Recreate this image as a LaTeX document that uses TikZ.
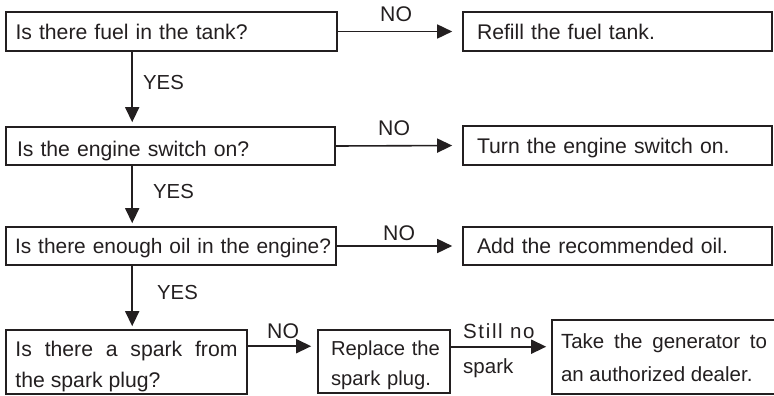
\documentclass[tikz,border=0pt]{standalone}
\usepackage{fontspec}
\setmainfont{Liberation Sans}
\usetikzlibrary{arrows.meta,calc}
\definecolor{ink}{RGB}{35,31,32}
\begin{document}
\begin{tikzpicture}[x=1pt,y=-1pt,
  font=\fontsize{21.2}{26}\selectfont, text=ink,
  box/.style={draw=ink, line width=1.6pt, rectangle, inner xsep=0pt, inner ysep=0pt,
    align=left, text height=15.2pt, text depth=0pt},
  mbox/.style={draw=ink, line width=1.6pt, rectangle, inner ysep=0pt},
  arr/.style={draw=ink, line width=1.6pt, -{Triangle[length=15pt,width=14pt]}},
  lbl/.style={anchor=base west, inner sep=0pt}]
\useasboundingbox (0,0) rectangle (774,396);

% question boxes and answers
\node[box, minimum width=331pt, text width=331pt, minimum height=39pt] (q1) at (171.5,31.5)
  {\hspace*{9.5pt}\mbox{Is there fuel in the tank?}};
\node[box, minimum width=309pt, text width=309pt, minimum height=39pt] (a1) at (617.5,31.5)
  {\hspace*{14pt}\mbox{Refill the fuel tank.}};
\node[box, minimum width=329pt, text width=329pt, minimum height=38pt, text height=21pt] (q2) at (170.5,146)
  {\hspace*{11pt}\mbox{Is the engine switch on?}};
\node[box, minimum width=309pt, text width=309pt, minimum height=39pt] (a2) at (617.5,145.5)
  {\hspace*{14pt}\mbox{Turn the engine switch on.}};
\node[box, minimum width=330pt, text width=330pt, minimum height=38pt,
  font=\fontsize{20.9}{26}\selectfont] (q3) at (171,246)
  {\hspace*{9pt}\mbox{Is there enough oil in the engine?}};
\node[box, minimum width=309pt, text width=309pt, minimum height=38pt] (a3) at (617.5,246)
  {\hspace*{14pt}\mbox{Add the recommended oil.}};

\node[mbox, inner xsep=9.5pt, text width=222pt, align=justify, minimum height=64pt,
  font=\fontsize{21.2}{31}\selectfont] (q4) at (126.5,362)
  {\rule{0pt}{25.3pt}Is there a spark from\linebreak the spark plug?};
\node[mbox, inner xsep=0pt, text width=132pt, align=left, minimum height=63pt,
  font=\fontsize{20.2}{30}\selectfont] (r5) at (384,361.5)
  {\rule{0pt}{21.2pt}\hspace*{13pt}\mbox{Replace the}\\\hspace*{13pt}\mbox{spark plug.}};
\node[mbox, inner xsep=9pt, text width=206pt, align=justify, minimum height=74pt,
  font=\fontsize{20.5}{33}\selectfont] (r6) at (664,357)
  {\rule{0pt}{17pt}Take the generator to\linebreak an authorized dealer.};

% YES connectors
\draw[arr, shorten >=4pt] ([xshift=127pt]q1.south west) -- ([xshift=127pt]q2.north west);
\draw[arr, shorten >=3pt] ([xshift=127pt]q2.south west) -- ([xshift=127pt]q3.north west);
\draw[arr, shorten >=3pt] ([xshift=127pt]q3.south west) -- ([xshift=127pt]q4.north west);

% NO connectors
\draw[arr, shorten >=10pt] (q1.east) -- (a1.west);
\draw[arr, shorten >=10pt] (q2.east) -- (a2.west);
\draw[arr, shorten >=10pt] (q3.east) -- (a3.west);
\draw[arr, shorten >=6pt] ([yshift=-17pt]q4.north east) coordinate (n4) -- (n4 -| r5.west);
\draw[arr, shorten >=5pt] ([yshift=-17.5pt]r5.north east) coordinate (n5) -- (n5 -| r6.west);

% labels
\node[lbl] (no1) at (380,22) {NO};
\node[lbl] (no2) at (378,135) {NO};
\node[lbl] (no3) at (383,240) {NO};
\node[lbl] (no4) at (267,338) {NO};
\node[lbl, font=\fontsize{20.3}{24}\selectfont] (yes1) at (143,89) {YES};
\node[lbl, font=\fontsize{20.3}{24}\selectfont] (yes2) at (153,198) {YES};
\node[lbl, font=\fontsize{20.3}{24}\selectfont] (yes3) at (157,299) {YES};
\node[lbl, font=\fontsize{20.5}{24}\selectfont\addfontfeature{LetterSpace=8}] (still) at (463,338) {Still no};
\node[lbl, font=\fontsize{20.5}{24}\selectfont] (spk) at (463,373) {spark};
\end{tikzpicture}
\end{document}
